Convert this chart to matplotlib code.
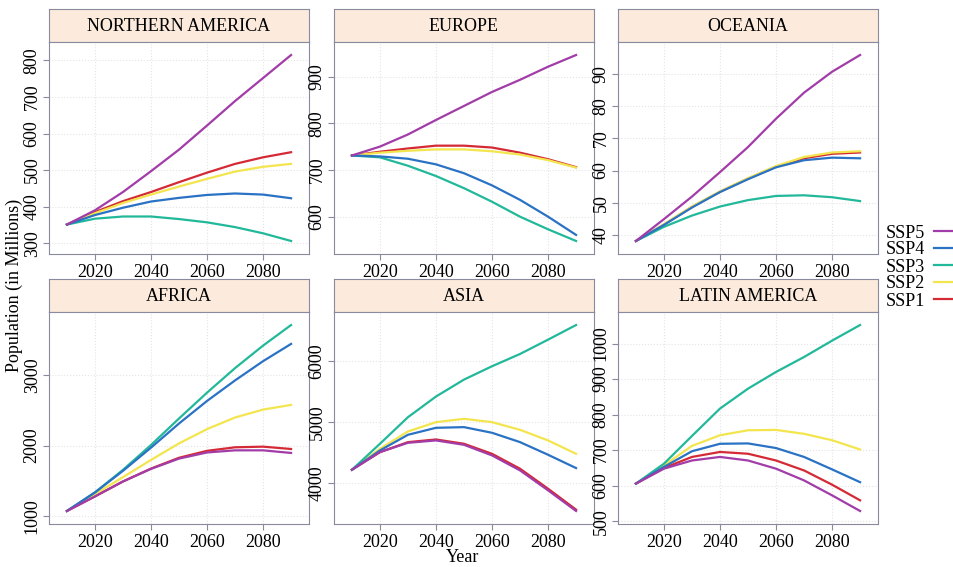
import matplotlib
matplotlib.use("Agg")
import matplotlib.pyplot as plt
from matplotlib.lines import Line2D

plt.rcParams["font.family"] = ["Liberation Serif", "DejaVu Serif"]

years = [2010, 2020, 2030, 2040, 2050, 2060, 2070, 2080, 2090]
scenarios = ["SSP5", "SSP4", "SSP3", "SSP2", "SSP1"]
colors = {"SSP5": "#a23ca8", "SSP4": "#2a72c4", "SSP3": "#22b89a",
          "SSP2": "#f3e54e", "SSP1": "#d42a36"}

northern_america = {
    "SSP5": [351, 390, 440, 497, 556, 622, 689, 752, 815],
    "SSP4": [351, 377, 397, 414, 424, 432, 436, 433, 423],
    "SSP3": [351, 367, 373, 373, 366, 357, 344, 327, 306],
    "SSP2": [351, 382, 410, 433, 455, 476, 496, 509, 517],
    "SSP1": [351, 385, 415, 440, 467, 493, 517, 535, 549],
}
europe = {
    "SSP5": [731, 750, 776, 807, 837, 867, 893, 921, 946],
    "SSP4": [731, 729, 724, 712, 693, 667, 636, 600, 561],
    "SSP3": [731, 727, 709, 687, 661, 632, 600, 573, 548],
    "SSP2": [731, 737, 741, 744, 744, 740, 733, 721, 705],
    "SSP1": [731, 739, 746, 752, 752, 748, 737, 723, 706],
}
oceania = {
    "SSP5": [38.1, 44.9, 51.9, 59.5, 67.3, 76.1, 84.2, 90.7, 95.9],
    "SSP4": [38.1, 43.1, 48.5, 53.3, 57.3, 61.0, 63.2, 64.0, 63.8],
    "SSP3": [38.1, 42.5, 46.0, 48.8, 50.8, 52.1, 52.3, 51.7, 50.5],
    "SSP2": [38.1, 43.3, 48.8, 53.5, 57.6, 61.4, 64.2, 65.6, 66.0],
    "SSP1": [38.1, 43.2, 48.7, 53.4, 57.5, 61.2, 63.8, 65.2, 65.6],
}
africa = {
    "SSP5": [1075, 1281, 1492, 1670, 1815, 1902, 1932, 1932, 1895],
    "SSP4": [1075, 1337, 1642, 1970, 2311, 2630, 2920, 3192, 3436],
    "SSP3": [1075, 1337, 1656, 2007, 2382, 2747, 3094, 3412, 3703],
    "SSP2": [1075, 1314, 1553, 1796, 2030, 2232, 2396, 2508, 2574],
    "SSP1": [1075, 1281, 1492, 1674, 1827, 1925, 1975, 1984, 1951],
}
asia = {
    "SSP5": [4216, 4507, 4660, 4699, 4627, 4452, 4205, 3877, 3537],
    "SSP4": [4216, 4534, 4792, 4907, 4918, 4825, 4671, 4463, 4244],
    "SSP3": [4216, 4644, 5082, 5422, 5701, 5921, 6123, 6359, 6600],
    "SSP2": [4216, 4562, 4847, 5000, 5055, 5000, 4874, 4699, 4479],
    "SSP1": [4216, 4507, 4671, 4715, 4644, 4479, 4233, 3904, 3559],
}
latin_america = {
    "SSP5": [606, 648, 671, 681, 671, 648, 615, 573, 529],
    "SSP4": [606, 653, 697, 718, 719, 706, 681, 646, 610],
    "SSP3": [606, 662, 740, 817, 873, 920, 962, 1008, 1052],
    "SSP2": [606, 657, 712, 742, 756, 757, 746, 728, 702],
    "SSP1": [606, 650, 681, 695, 690, 671, 643, 603, 559],
}

panels = [
    ("NORTHERN AMERICA", northern_america, range(300, 801, 100)),
    ("EUROPE", europe, range(600, 901, 100)),
    ("OCEANIA", oceania, range(40, 91, 10)),
    ("AFRICA", africa, range(1000, 3001, 1000)),
    ("ASIA", asia, range(4000, 6001, 1000)),
    ("LATIN AMERICA", latin_america, range(500, 1001, 100)),
]

W, H = 954, 567
fig = plt.figure(figsize=(W / 100, H / 100), dpi=100)

border = "#8a8a9e"
strip_bg = "#fcebdc"
col_left = [49, 334, 618]
panel_w = 260
row_top = [9, 279]
strip_h = 33
plot_h = 212


def px_rect(x, y, w, h):
    return [x / W, 1 - (y + h) / H, w / W, h / H]


for i, (name, data, yticks) in enumerate(panels):
    r, c = divmod(i, 3)
    x0, y0 = col_left[c], row_top[r]

    strip = fig.add_axes(px_rect(x0, y0, panel_w, strip_h))
    strip.set_facecolor(strip_bg)
    strip.set_xticks([])
    strip.set_yticks([])
    for sp in strip.spines.values():
        sp.set_color(border)
    strip.text(0.5, 0.47, name, ha="center", va="center", fontsize=13,
               transform=strip.transAxes)

    ax = fig.add_axes(px_rect(x0, y0 + strip_h, panel_w, plot_h))
    for s in scenarios[::-1]:
        ax.plot(years, data[s], color=colors[s], lw=1.6)
    ax.margins(x=0.08, y=0.07)
    ax.set_xticks([2020, 2040, 2060, 2080])
    ax.set_yticks(list(yticks))
    ax.grid(color="#e4e4e4", linestyle=":", linewidth=0.8)
    ax.set_axisbelow(True)
    for sp in ax.spines.values():
        sp.set_color(border)
    ax.tick_params(axis="both", colors=border, labelcolor="black",
                   labelsize=13, length=4)
    ax.tick_params(axis="y", labelrotation=90, pad=2)
    for lab in ax.get_yticklabels():
        lab.set_va("center")

fig.text(14 / W, 1 - 285 / H, "Population (in Millions)", rotation=90,
         ha="center", va="center", fontsize=13)
fig.text(463 / W, 1 - 557 / H, "Year", ha="center", va="center", fontsize=13)

handles = [Line2D([], [], color=colors[s], lw=1.6) for s in scenarios]
fig.legend(handles, scenarios, loc="center left",
           bbox_to_anchor=(886 / W, 1 - 267 / H), frameon=False,
           markerfirst=False, fontsize=13, handlelength=1.8,
           handletextpad=0.5, labelspacing=0.0, borderpad=0,
           borderaxespad=0)

fig.savefig("out.png", dpi=100)
